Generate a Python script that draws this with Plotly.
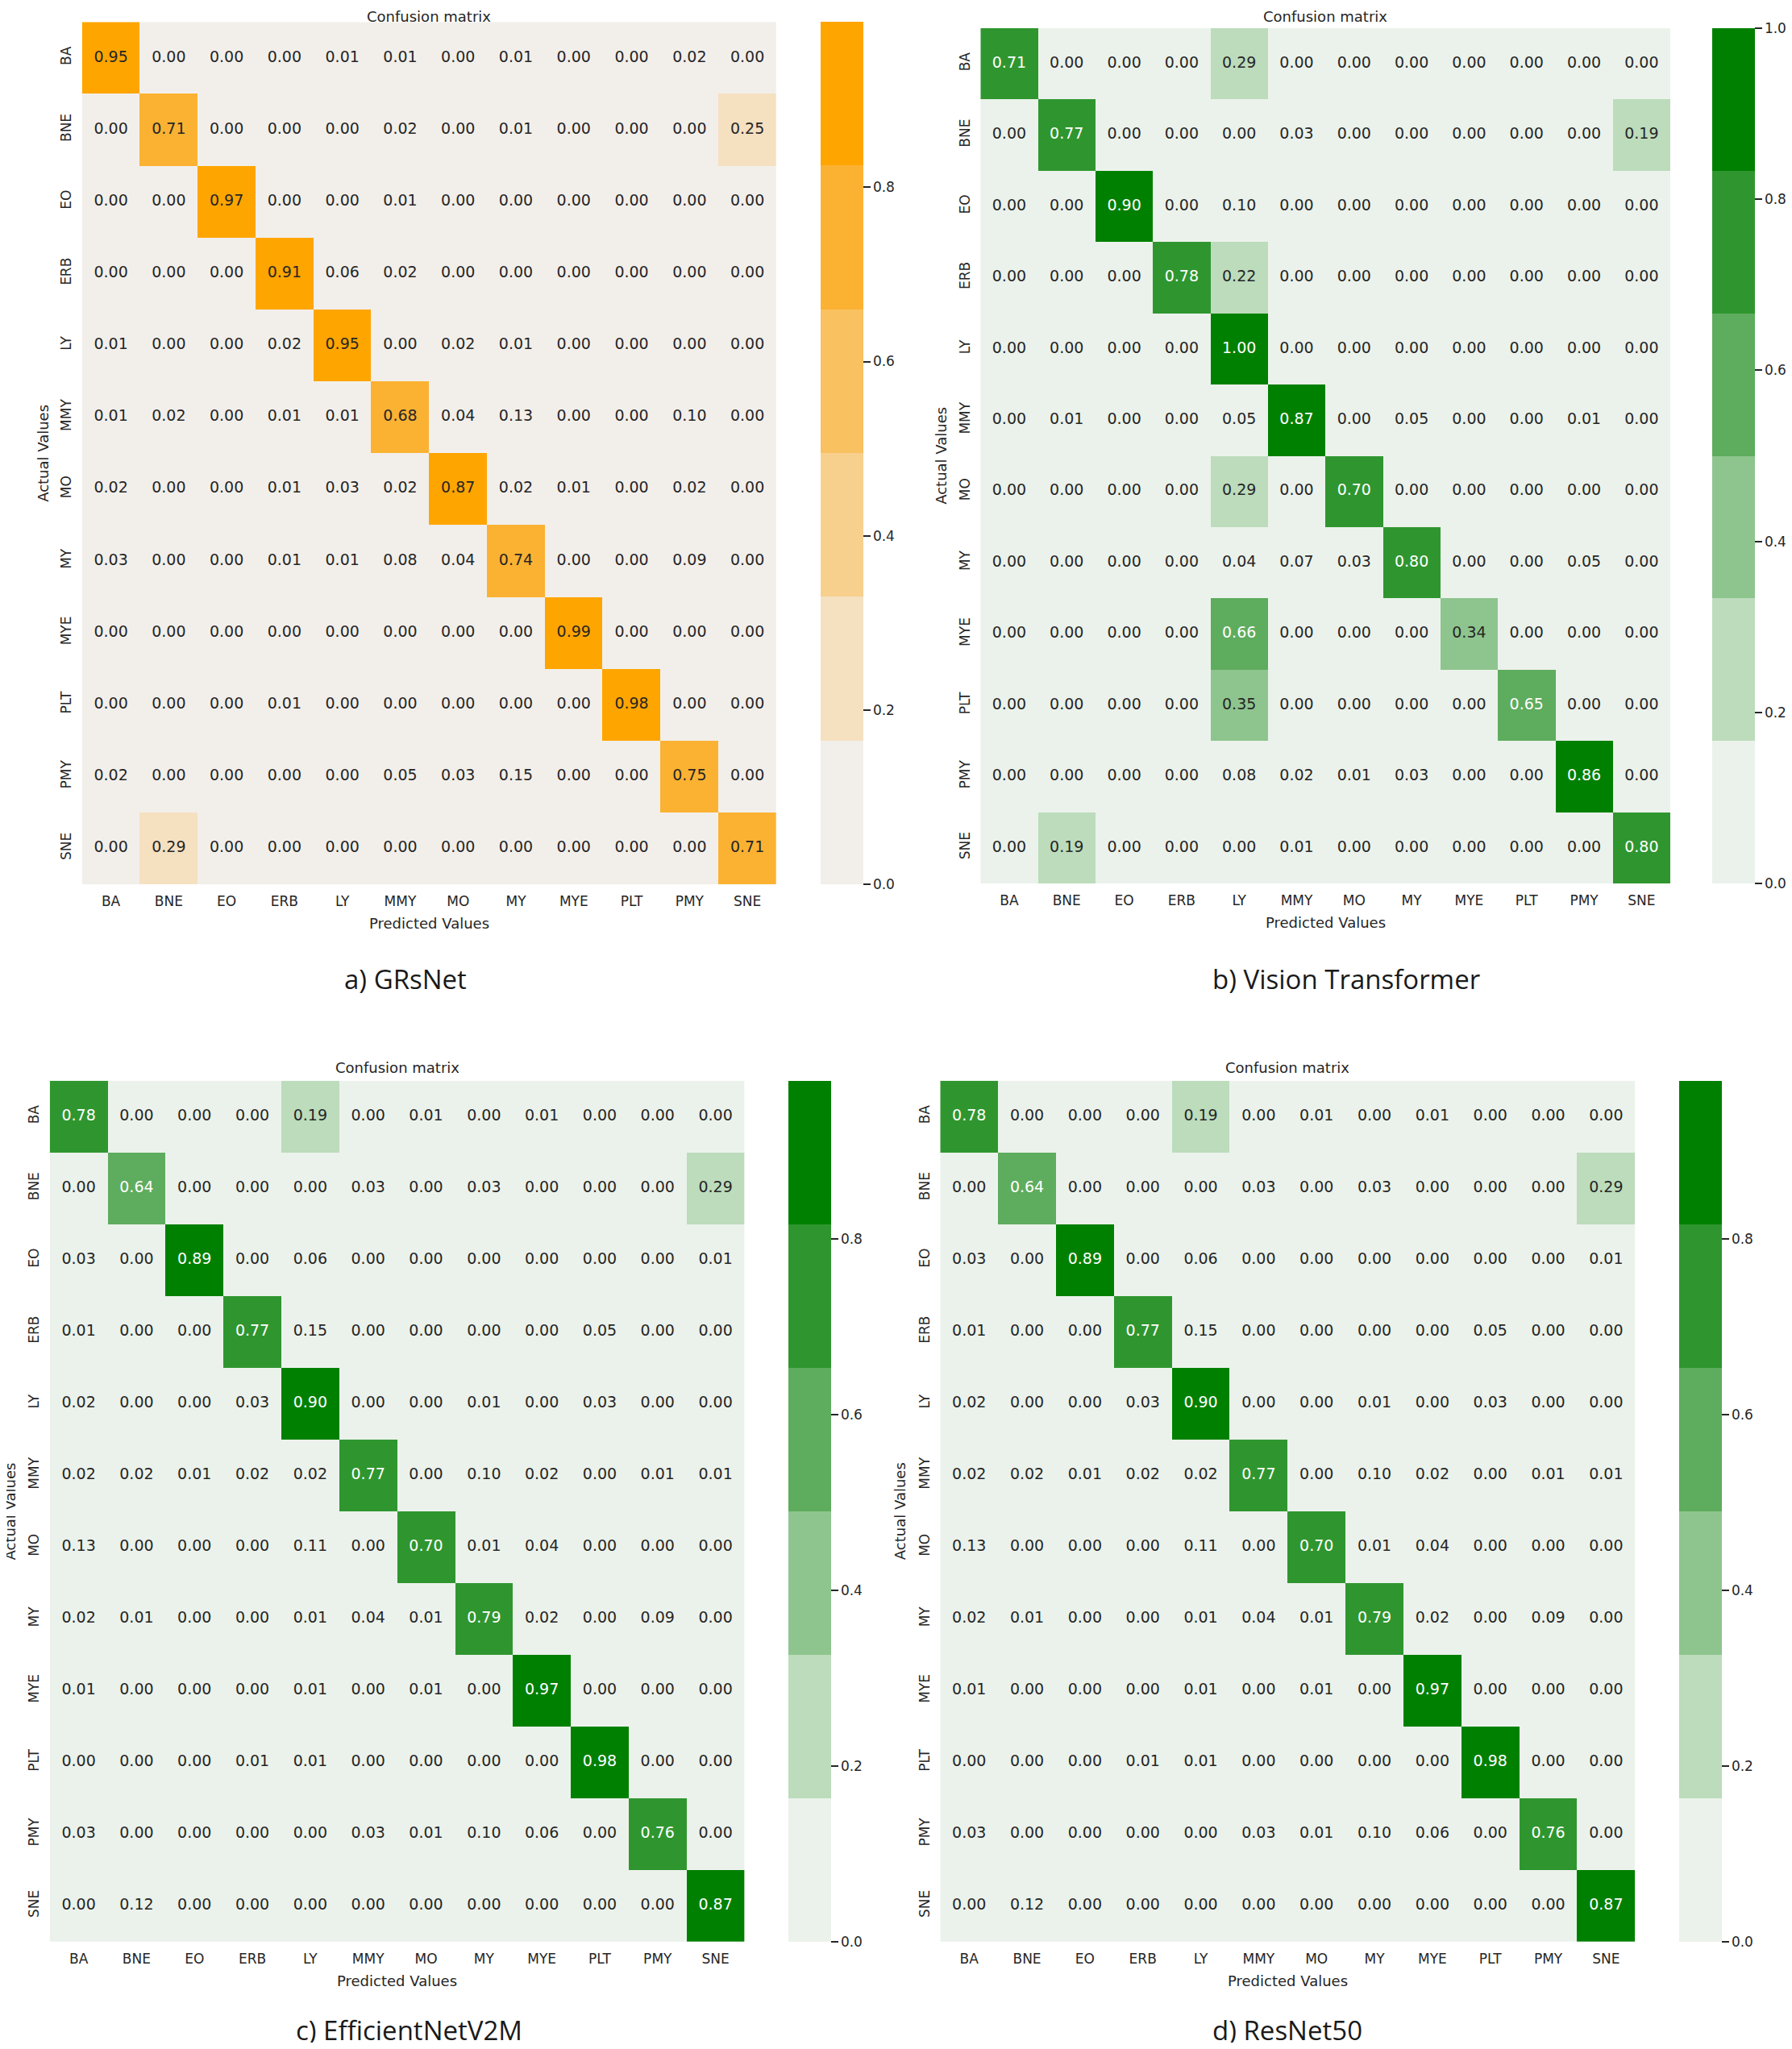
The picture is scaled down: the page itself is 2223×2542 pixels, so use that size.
import plotly.graph_objects as go

# class labels (same order on both axes)
labels = ["BA", "BNE", "EO", "ERB", "LY", "MMY", "MO", "MY", "MYE", "PLT", "PMY", "SNE"]

# a) GRsNet
grsnet_cm = [
    [0.95, 0.00, 0.00, 0.00, 0.01, 0.01, 0.00, 0.01, 0.00, 0.00, 0.02, 0.00],
    [0.00, 0.71, 0.00, 0.00, 0.00, 0.02, 0.00, 0.01, 0.00, 0.00, 0.00, 0.25],
    [0.00, 0.00, 0.97, 0.00, 0.00, 0.01, 0.00, 0.00, 0.00, 0.00, 0.00, 0.00],
    [0.00, 0.00, 0.00, 0.91, 0.06, 0.02, 0.00, 0.00, 0.00, 0.00, 0.00, 0.00],
    [0.01, 0.00, 0.00, 0.02, 0.95, 0.00, 0.02, 0.01, 0.00, 0.00, 0.00, 0.00],
    [0.01, 0.02, 0.00, 0.01, 0.01, 0.68, 0.04, 0.13, 0.00, 0.00, 0.10, 0.00],
    [0.02, 0.00, 0.00, 0.01, 0.03, 0.02, 0.87, 0.02, 0.01, 0.00, 0.02, 0.00],
    [0.03, 0.00, 0.00, 0.01, 0.01, 0.08, 0.04, 0.74, 0.00, 0.00, 0.09, 0.00],
    [0.00, 0.00, 0.00, 0.00, 0.00, 0.00, 0.00, 0.00, 0.99, 0.00, 0.00, 0.00],
    [0.00, 0.00, 0.00, 0.01, 0.00, 0.00, 0.00, 0.00, 0.00, 0.98, 0.00, 0.00],
    [0.02, 0.00, 0.00, 0.00, 0.00, 0.05, 0.03, 0.15, 0.00, 0.00, 0.75, 0.00],
    [0.00, 0.29, 0.00, 0.00, 0.00, 0.00, 0.00, 0.00, 0.00, 0.00, 0.00, 0.71],
]

# b) Vision Transformer
vit_cm = [
    [0.71, 0.00, 0.00, 0.00, 0.29, 0.00, 0.00, 0.00, 0.00, 0.00, 0.00, 0.00],
    [0.00, 0.77, 0.00, 0.00, 0.00, 0.03, 0.00, 0.00, 0.00, 0.00, 0.00, 0.19],
    [0.00, 0.00, 0.90, 0.00, 0.10, 0.00, 0.00, 0.00, 0.00, 0.00, 0.00, 0.00],
    [0.00, 0.00, 0.00, 0.78, 0.22, 0.00, 0.00, 0.00, 0.00, 0.00, 0.00, 0.00],
    [0.00, 0.00, 0.00, 0.00, 1.00, 0.00, 0.00, 0.00, 0.00, 0.00, 0.00, 0.00],
    [0.00, 0.01, 0.00, 0.00, 0.05, 0.87, 0.00, 0.05, 0.00, 0.00, 0.01, 0.00],
    [0.00, 0.00, 0.00, 0.00, 0.29, 0.00, 0.70, 0.00, 0.00, 0.00, 0.00, 0.00],
    [0.00, 0.00, 0.00, 0.00, 0.04, 0.07, 0.03, 0.80, 0.00, 0.00, 0.05, 0.00],
    [0.00, 0.00, 0.00, 0.00, 0.66, 0.00, 0.00, 0.00, 0.34, 0.00, 0.00, 0.00],
    [0.00, 0.00, 0.00, 0.00, 0.35, 0.00, 0.00, 0.00, 0.00, 0.65, 0.00, 0.00],
    [0.00, 0.00, 0.00, 0.00, 0.08, 0.02, 0.01, 0.03, 0.00, 0.00, 0.86, 0.00],
    [0.00, 0.19, 0.00, 0.00, 0.00, 0.01, 0.00, 0.00, 0.00, 0.00, 0.00, 0.80],
]

# c) EfficientNetV2M
effnet_cm = [
    [0.78, 0.00, 0.00, 0.00, 0.19, 0.00, 0.01, 0.00, 0.01, 0.00, 0.00, 0.00],
    [0.00, 0.64, 0.00, 0.00, 0.00, 0.03, 0.00, 0.03, 0.00, 0.00, 0.00, 0.29],
    [0.03, 0.00, 0.89, 0.00, 0.06, 0.00, 0.00, 0.00, 0.00, 0.00, 0.00, 0.01],
    [0.01, 0.00, 0.00, 0.77, 0.15, 0.00, 0.00, 0.00, 0.00, 0.05, 0.00, 0.00],
    [0.02, 0.00, 0.00, 0.03, 0.90, 0.00, 0.00, 0.01, 0.00, 0.03, 0.00, 0.00],
    [0.02, 0.02, 0.01, 0.02, 0.02, 0.77, 0.00, 0.10, 0.02, 0.00, 0.01, 0.01],
    [0.13, 0.00, 0.00, 0.00, 0.11, 0.00, 0.70, 0.01, 0.04, 0.00, 0.00, 0.00],
    [0.02, 0.01, 0.00, 0.00, 0.01, 0.04, 0.01, 0.79, 0.02, 0.00, 0.09, 0.00],
    [0.01, 0.00, 0.00, 0.00, 0.01, 0.00, 0.01, 0.00, 0.97, 0.00, 0.00, 0.00],
    [0.00, 0.00, 0.00, 0.01, 0.01, 0.00, 0.00, 0.00, 0.00, 0.98, 0.00, 0.00],
    [0.03, 0.00, 0.00, 0.00, 0.00, 0.03, 0.01, 0.10, 0.06, 0.00, 0.76, 0.00],
    [0.00, 0.12, 0.00, 0.00, 0.00, 0.00, 0.00, 0.00, 0.00, 0.00, 0.00, 0.87],
]

# d) ResNet50
resnet_cm = [
    [0.78, 0.00, 0.00, 0.00, 0.19, 0.00, 0.01, 0.00, 0.01, 0.00, 0.00, 0.00],
    [0.00, 0.64, 0.00, 0.00, 0.00, 0.03, 0.00, 0.03, 0.00, 0.00, 0.00, 0.29],
    [0.03, 0.00, 0.89, 0.00, 0.06, 0.00, 0.00, 0.00, 0.00, 0.00, 0.00, 0.01],
    [0.01, 0.00, 0.00, 0.77, 0.15, 0.00, 0.00, 0.00, 0.00, 0.05, 0.00, 0.00],
    [0.02, 0.00, 0.00, 0.03, 0.90, 0.00, 0.00, 0.01, 0.00, 0.03, 0.00, 0.00],
    [0.02, 0.02, 0.01, 0.02, 0.02, 0.77, 0.00, 0.10, 0.02, 0.00, 0.01, 0.01],
    [0.13, 0.00, 0.00, 0.00, 0.11, 0.00, 0.70, 0.01, 0.04, 0.00, 0.00, 0.00],
    [0.02, 0.01, 0.00, 0.00, 0.01, 0.04, 0.01, 0.79, 0.02, 0.00, 0.09, 0.00],
    [0.01, 0.00, 0.00, 0.00, 0.01, 0.00, 0.01, 0.00, 0.97, 0.00, 0.00, 0.00],
    [0.00, 0.00, 0.00, 0.01, 0.01, 0.00, 0.00, 0.00, 0.00, 0.98, 0.00, 0.00],
    [0.03, 0.00, 0.00, 0.00, 0.00, 0.03, 0.01, 0.10, 0.06, 0.00, 0.76, 0.00],
    [0.00, 0.12, 0.00, 0.00, 0.00, 0.00, 0.00, 0.00, 0.00, 0.00, 0.00, 0.87],
]

# 6-step light palettes (seaborn light_palette look)
orange_palette = ["#f2efeb", "#f5e0c0", "#f7d08e", "#f9c160", "#fbb232", "#ffa500"]
green_palette = ["#ebf2eb", "#bcdcbc", "#8ec58e", "#5eac5e", "#2f962f", "#008000"]

# page is 2223x2542; the browser body keeps an 8px margin around the figure
PAGE_W, PAGE_H = 2223, 2542
OFF = 8
W, H = PAGE_W - 2 * OFF, PAGE_H - 2 * OFF
TXT = "#262626"


def fx(x):
    return (x - OFF) / W


def fy(y):
    return 1 - (y - OFF) / H


def stepped(colors):
    n = len(colors)
    scale = []
    for i, c in enumerate(colors):
        scale.append([i / n, c])
        scale.append([(i + 1) / n, c])
    return scale


def luminance(hex_colour):
    rgb = [int(hex_colour[i:i + 2], 16) / 255 for i in (1, 3, 5)]
    lin = [c / 12.92 if c <= 0.03928 else ((c + 0.055) / 1.055) ** 2.4 for c in rgb]
    return 0.2126 * lin[0] + 0.7152 * lin[1] + 0.0722 * lin[2]


def text_colour(v, vmax, colors):
    n = len(colors)
    idx = min(int(v / vmax * n), n - 1)
    return "white" if luminance(colors[idx]) < 0.408 else TXT


# panel boxes in page pixels: heatmap left, right, top, bottom; colorbar left
panels = [
    dict(cm=grsnet_cm, pal=orange_palette, box=(101.7, 963, 27.3, 1097), cb=1018,
         caption="a) GRsNet", cap_xy=(503, 1214)),
    dict(cm=vit_cm, pal=green_palette, box=(1216.3, 2072, 35, 1096), cb=2124,
         caption="b) Vision Transformer", cap_xy=(1670, 1214)),
    dict(cm=effnet_cm, pal=green_palette, box=(61.7, 923.5, 1340.7, 2409), cb=978,
         caption="c) EfficientNetV2M", cap_xy=(507, 2518)),
    dict(cm=resnet_cm, pal=green_palette, box=(1166.3, 2028.3, 1340.7, 2409), cb=2082.7,
         caption="d) ResNet50", cap_xy=(1597, 2518)),
]

fig = go.Figure()
annotations = []
layout_axes = {}

for k, p in enumerate(panels, start=1):
    left, right, top, bottom = p["box"]
    cm = p["cm"]
    vmax = max(max(r) for r in cm)
    xa = "x" if k == 1 else f"x{k}"
    ya = "y" if k == 1 else f"y{k}"

    fig.add_trace(go.Heatmap(
        z=cm, x=labels, y=labels, xaxis=xa, yaxis=ya,
        zmin=0, zmax=vmax, colorscale=stepped(p["pal"]),
        hoverinfo="skip",
        colorbar=dict(
            x=fx(p["cb"]), xanchor="left", xpad=0,
            y=fy(bottom), yanchor="bottom", ypad=0,
            len=(bottom - top) / H, lenmode="fraction",
            thickness=53, thicknessmode="pixels", outlinewidth=0,
            ticks="outside", ticklen=9, tickwidth=2, tickcolor=TXT,
            tickfont=dict(size=17, color=TXT),
            tick0=0, dtick=0.2, tickformat=".1f",
        ),
    ))

    xs, ys, txt, cols = [], [], [], []
    for i, row in enumerate(cm):
        for j, v in enumerate(row):
            xs.append(labels[j])
            ys.append(labels[i])
            txt.append(f"{v:.2f}")
            cols.append(text_colour(v, vmax, p["pal"]))
    fig.add_trace(go.Scatter(
        x=xs, y=ys, text=txt, mode="text", xaxis=xa, yaxis=ya,
        textfont=dict(size=19, color=cols), showlegend=False, hoverinfo="skip",
    ))

    axis_style = dict(type="category", showgrid=False, zeroline=False, showline=False,
                      ticks="outside", ticklen=6, tickcolor="rgba(0,0,0,0)",
                      tickfont=dict(size=17, color=TXT), automargin=False)
    layout_axes["xaxis" if k == 1 else f"xaxis{k}"] = dict(
        domain=[fx(left), fx(right)], anchor=ya, range=[-0.5, 11.5], **axis_style)
    layout_axes["yaxis" if k == 1 else f"yaxis{k}"] = dict(
        domain=[fy(bottom), fy(top)], anchor=xa, range=[11.5, -0.5], tickangle=-90,
        **axis_style)

    cx = (left + right) / 2
    cy = (top + bottom) / 2
    annotations += [
        dict(text="Confusion matrix", x=fx(cx), y=fy(max(top - 16, 20)), font=dict(size=18)),
        dict(text="Predicted Values", x=fx(cx), y=fy(bottom + 48), font=dict(size=18)),
        dict(text="Actual Values", x=fx(left - 49), y=fy(cy), textangle=-90,
             font=dict(size=18)),
        dict(text=p["caption"], x=fx(p["cap_xy"][0]), y=fy(p["cap_xy"][1]),
             font=dict(size=33, family="Open Sans", color="#1a1a1a")),
    ]

for a in annotations:
    a.update(xref="paper", yref="paper", showarrow=False, xanchor="center", yanchor="middle")

fig.update_layout(
    width=W, height=H,
    margin=dict(l=0, r=0, t=0, b=0, autoexpand=False),
    paper_bgcolor="white", plot_bgcolor="white",
    font=dict(family="DejaVu Sans", color=TXT),
    showlegend=False,
    annotations=annotations,
    **layout_axes,
)

fig.write_html("out.html")
